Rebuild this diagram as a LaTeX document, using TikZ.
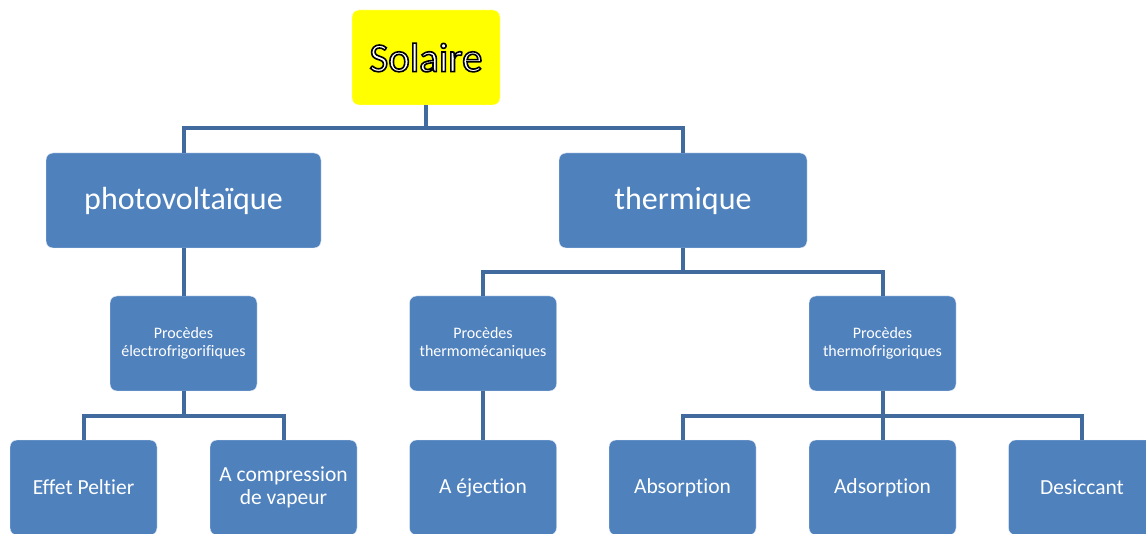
\documentclass[tikz,border=0pt]{standalone}
\usepackage{fontspec}
\setmainfont{Carlito}[Ligatures=CommonOff]
\usetikzlibrary{positioning}
\definecolor{boxblue}{RGB}{79,129,189}
\definecolor{linkblue}{RGB}{65,106,158}
\definecolor{solyellow}{RGB}{255,255,0}
% outlined text: white fill, black stroke
\newcommand{\outlinetext}[1]{%
  \special{pdf:literal direct 2 Tr 1.6 w 0 0 0 RG}#1\special{pdf:literal direct 0 Tr}}

\tikzset{
  box/.style={rectangle, rounded corners=7pt, fill=boxblue, draw=white!85!boxblue,
    text=white, align=center, minimum width=147pt, minimum height=95pt, inner sep=2pt},
  bigbox/.style={box, minimum width=275pt, font=\fontsize{32}{36}\selectfont},
  midbox/.style={box, font=\fontsize{16}{18}\selectfont},
  leafbox/.style={box, font=\fontsize{21.5}{23}\selectfont},
  link/.style={draw=linkblue, line width=4pt}
}

\begin{document}
\begin{tikzpicture}[x=1pt, y=-1pt]

	\useasboundingbox (0,0) rectangle (1146,534);
	\clip (0,0) rectangle (1146,534);

	% top
	\node[box, fill=solyellow, draw=white!85!solyellow, minimum width=148pt] (sol) at (426,57.5)
	  {\fontsize{41}{44}\selectfont\outlinetext{Solaire}};

	\node[bigbox] (pv) at (183.5,200.5) {photovolta\"ique};
	\node[bigbox, minimum width=248pt] (th) at (683,200.5) {thermique};

	% procedes
	\node[midbox] (elec) at (183.5,343.5) {Proc\`edes\\\'electrofrigorifiques};
	\node[midbox] (meca) at (483,343.5) {Proc\`edes\\thermom\'ecaniques};
	\node[midbox] (frig) at (882.5,343.5) {Proc\`edes\\thermofrigoriques};

	% leaves
	\node[leafbox] (pelt) at (83.5,487.5) {Effet Peltier};
	\node[leafbox] (comp) at (283.5,487.5) {A compression\\de vapeur};
	\node[leafbox] (ejec) at (483,487.5) {A \'ejection};
	\node[leafbox] (abs) at (682.5,487.5) {Absorption};
	\node[leafbox] (ads) at (882.5,487.5) {Adsorption};
	\node[leafbox] (des) at (1082,487.5) {Desiccant};

	% connectors
	\coordinate (j1) at (426,128);
	\coordinate (j2) at (683,272);
	\coordinate (j3) at (183.5,416);
	\coordinate (j4) at (882.5,416);

	\draw[link] (sol) -- (j1);
	\draw[link] (j1) -| (pv);
	\draw[link] (j1) -| (th);
	\draw[link] (pv) -- (elec);
	\draw[link] (th) -- (j2);
	\draw[link] (j2) -| (meca);
	\draw[link] (j2) -| (frig);
	\draw[link] (elec) -- (j3);
	\draw[link] (j3) -| (pelt);
	\draw[link] (j3) -| (comp);
	\draw[link] (meca) -- (ejec);
	\draw[link] (frig) -- (j4);
	\draw[link] (j4) -| (abs);
	\draw[link] (j4) -| (ads);
	\draw[link] (j4) -| (des);

\end{tikzpicture}
\end{document}
